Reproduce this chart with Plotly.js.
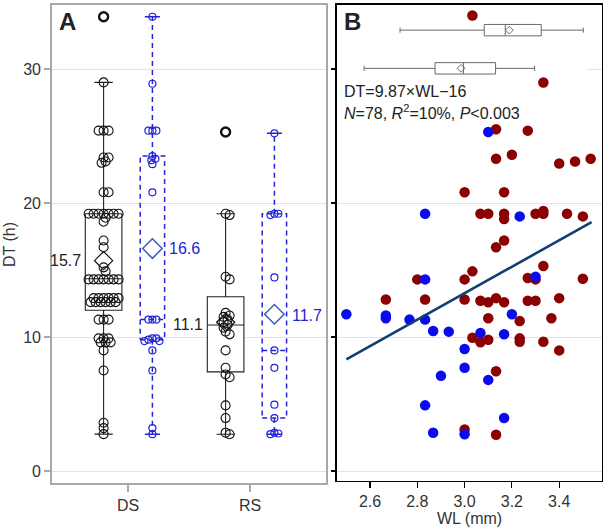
<!DOCTYPE html>
<html>
<head>
<meta charset="utf-8">
<script src="https://cdn.plot.ly/plotly-3.0.1.min.js"></script>
<style>html,body{margin:0;padding:0;background:#fff;}#chart{width:606px;height:529px;}</style>
</head>
<body>
<div id="chart"></div>
<script>
// ---------------- DATA ----------------
const groups = ['DS', 'RS'];
// Panel A: DT (h) values, black series
const dsBlack = [29.0, 25.4, 25.4, 25.4, 23.4, 23.4, 23.1, 23.0, 20.8, 20.8,
  19.2, 19.2, 19.2, 19.2, 19.2, 19.2, 19.2, 18.9, 18.6, 17.2, 16.7, 15.2, 14.9,
  14.3, 14.3, 14.3, 14.3, 14.3, 14.3, 14.3,
  12.9, 12.9, 12.9, 12.9, 12.9, 12.9, 12.6, 12.6, 12.6, 12.6, 12.6, 12.6,
  11.3, 11.3, 11.3, 9.9, 9.9, 9.9, 9.6, 9.6, 9.6, 9.0, 7.5, 3.6, 3.2, 2.75];
const dsBlackOut = [33.9];
const rsBlack = [19.2, 19.1, 14.5, 14.3, 11.8, 11.6, 11.5, 11.3, 11.1, 10.9, 10.7,
  10.4, 10.2, 9.0, 7.7, 7.2, 7.0, 4.9, 3.95, 2.86, 2.74];
const rsBlackOut = [25.3];
// Panel A: blue (dashed) series
const dsBlue = [33.9, 28.9, 25.4, 25.4, 25.4, 23.5, 23.3, 23.2, 22.9, 20.8,
  11.3, 11.3, 11.3, 9.9, 9.9, 9.8, 9.7, 9.7, 9.0, 7.5, 3.2, 2.75];
const rsBlue = [25.2, 19.2, 19.2, 19.1, 14.45, 9.0, 7.7, 4.95, 3.95, 2.85, 2.8, 2.75];
// Box statistics [DS, RS]
const blackQ1 = [12.0, 7.4], blackMed = [14.35, 10.9], blackQ3 = [19.2, 13.0];
const blackLo = [2.75, 2.74], blackHi = [29.0, 19.2], blackMean = [15.7, 11.1];
const blueQ1 = [9.8, 3.95], blueMed = [11.3, 9.0], blueQ3 = [23.5, 19.2];
const blueLo = [2.75, 2.75], blueHi = [33.9, 25.2], blueMean = [16.6, 11.7];
const blackMeanLabel = ['15.7', '11.1'];
const blueMeanLabel = ['16.6', '11.7'];

// Panel B: WL (mm) vs DT (h)
const redWL = [3.033, 3.333, 3.133, 3.267, 3.133, 3.2, 3.4, 3.467, 3.533, 3.0, 3.167,
  3.067, 3.1, 3.167, 3.167, 3.3, 3.333, 3.333, 3.433, 3.5, 3.167, 3.133, 3.333, 3.033,
  2.8, 3.0, 3.267, 3.3, 3.5, 2.667, 2.833, 3.0, 3.067, 3.1, 3.133, 3.167, 3.267, 3.3, 3.4,
  3.1, 3.233, 3.367, 3.033, 3.067, 3.1, 3.233, 3.233, 3.333, 3.4, 3.133, 3.0, 3.133];
const redDT = [34.0, 29.0, 25.5, 25.4, 23.3, 23.6, 22.95, 23.1, 23.3, 20.8, 20.8,
  19.2, 19.2, 19.2, 18.8, 19.2, 19.4, 19.2, 19.2, 19.0, 17.2, 16.7, 15.3, 14.9,
  14.3, 14.3, 14.4, 14.3, 14.35, 12.8, 12.8, 12.8, 12.7, 12.6, 12.9, 12.6, 12.7, 12.7, 12.9,
  11.4, 11.2, 11.4, 9.95, 9.6, 9.8, 9.9, 9.65, 9.65, 9.0, 7.45, 3.1, 2.7];
const blueWL = [3.1, 2.833, 3.233, 2.833, 3.3, 2.5, 2.667, 2.667, 2.767, 2.833, 3.2,
  2.867, 2.933, 3.067, 3.167, 3.0, 3.0, 2.9, 3.1, 2.833, 3.167, 2.867, 3.0];
const blueDT = [25.3, 19.2, 19.0, 14.3, 14.5, 11.7, 11.6, 11.4, 11.3, 11.3, 11.7,
  10.45, 10.4, 10.3, 10.2, 9.1, 7.7, 7.1, 6.8, 4.9, 3.95, 2.86, 2.74];
// WL box statistics [red group, blue group]
const wlQ1 = [3.083, 2.875], wlMed = [3.172, 2.995], wlQ3 = [3.324, 3.131];
const wlLo = [2.727, 2.575], wlHi = [3.502, 3.296], wlMean = [3.189, 2.985];
// Regression
const fitSlope = 9.87, fitIntercept = -16.34, fitXRange = [2.5, 3.537];

// ---------------- LAYOUT HELPERS ----------------
const W = 606, H = 529;
const px = v => v / W, py = v => 1 - v / H;
const FONT = 'Liberation Sans, Arial, sans-serif';
const BLUE = '#2323d8';
const pxPerY = 13.4, pxPerX = 122;

function swarm(vals, d) {
  const order = vals.map((v, i) => i).sort((a, b) => vals[b] - vals[a]);
  const placed = [], off = new Array(vals.length);
  order.forEach(i => {
    const y = vals[i] * pxPerY;
    let c = 0;
    for (let k = 0; k < 200; k++) {
      const cand = (k % 2 === 1 ? 1 : -1) * Math.ceil(k / 2);
      const ok = placed.every(p => (p.x - cand) ** 2 + (p.y - y) ** 2 >= d * d);
      if (ok) { c = cand; break; }
    }
    placed.push({x: c, y: y});
    off[i] = c / pxPerX;
  });
  return off;
}

const pos = {black: [-0.2, 0.8], blue: [0.2, 1.2]};
const traces = [];
const none = {hoverinfo: 'skip', showlegend: false};

// Black boxes
for (let g = 0; g < 2; g++) {
  traces.push(Object.assign({
    type: 'box', x: [pos.black[g]], q1: [blackQ1[g]], median: [blackMed[g]], q3: [blackQ3[g]],
    lowerfence: [blackLo[g]], upperfence: [blackHi[g]], width: 0.3, whiskerwidth: 0.5,
    fillcolor: '#ffffff', line: {color: '#222', width: 1.1}, boxpoints: false,
    xaxis: 'x', yaxis: 'y'
  }, none));
}
// Blue dashed boxes
for (let g = 0; g < 2; g++) {
  const x = pos.blue[g], w = 0.1, c = 0.062;
  traces.push(Object.assign({
    type: 'scatter', mode: 'lines',
    x: [x - w, x + w, x + w, x - w, x - w, null, x - w, x + w, null, x, x, null, x, x],
    y: [blueQ1[g], blueQ1[g], blueQ3[g], blueQ3[g], blueQ1[g], null, blueMed[g], blueMed[g], null,
        blueQ3[g], blueHi[g], null, blueQ1[g], blueLo[g]],
    line: {color: BLUE, width: 1.5, dash: '5px,4px'}, xaxis: 'x', yaxis: 'y'
  }, none));
  traces.push(Object.assign({
    type: 'scatter', mode: 'lines',
    x: [x - c, x + c, null, x - c, x + c],
    y: [blueHi[g], blueHi[g], null, blueLo[g], blueLo[g]],
    line: {color: BLUE, width: 1.5}, xaxis: 'x', yaxis: 'y'
  }, none));
}
// Points
function addPoints(vals, center, d, color, size, lw) {
  const off = swarm(vals, d);
  traces.push(Object.assign({
    type: 'scatter', mode: 'markers', x: vals.map((v, i) => center + off[i]), y: vals,
    marker: {symbol: 'circle-open', size: size, color: color, line: {width: lw, color: color}},
    xaxis: 'x', yaxis: 'y'
  }, none));
}
addPoints(dsBlack, pos.black[0], 4.2, '#111', 9, 1.1);
addPoints(rsBlack, pos.black[1], 4.2, '#111', 9, 1.1);
addPoints(dsBlue, pos.blue[0], 3.4, BLUE, 7, 1.2);
addPoints(rsBlue, pos.blue[1], 3.4, BLUE, 7, 1.2);
traces.push(Object.assign({
  type: 'scatter', mode: 'markers', x: [pos.black[0], pos.black[1]], y: [dsBlackOut[0], rsBlackOut[0]],
  marker: {symbol: 'circle-open', size: 9, color: '#111', line: {width: 2.4, color: '#111'}},
  xaxis: 'x', yaxis: 'y'
}, none));
// Means
traces.push(Object.assign({
  type: 'scatter', mode: 'markers', x: pos.black, y: blackMean,
  marker: {symbol: 'diamond-open', size: 14, color: '#111', line: {width: 1.2, color: '#111'}},
  xaxis: 'x', yaxis: 'y'
}, none));
traces.push(Object.assign({
  type: 'scatter', mode: 'markers', x: pos.blue, y: blueMean,
  marker: {symbol: 'diamond-open', size: 15, color: '#3a5cc0', line: {width: 1.5, color: '#3a5cc0'}},
  xaxis: 'x', yaxis: 'y'
}, none));

// Panel B: WL boxes
const wlPos = [32.9, 30.05];
for (let g = 0; g < 2; g++) {
  traces.push(Object.assign({
    type: 'box', orientation: 'h', y: [wlPos[g]], q1: [wlQ1[g]], median: [wlMed[g]], q3: [wlQ3[g]],
    lowerfence: [wlLo[g]], upperfence: [wlHi[g]], width: 0.85, whiskerwidth: 0.45,
    fillcolor: '#ffffff', line: {color: '#6a6a6a', width: 1}, boxpoints: false,
    xaxis: 'x2', yaxis: 'y2'
  }, none));
}
traces.push(Object.assign({
  type: 'scatter', mode: 'markers', x: wlMean, y: wlPos,
  marker: {symbol: 'diamond-open', size: 6, color: '#6a6a6a', line: {width: 1, color: '#6a6a6a'}},
  xaxis: 'x2', yaxis: 'y2'
}, none));
traces.push(Object.assign({
  type: 'scatter', mode: 'markers', x: redWL, y: redDT,
  marker: {size: 10.5, color: '#8b0000'}, xaxis: 'x2', yaxis: 'y2'
}, none));
traces.push(Object.assign({
  type: 'scatter', mode: 'markers', x: blueWL, y: blueDT,
  marker: {size: 10.5, color: '#0a0af0'}, xaxis: 'x2', yaxis: 'y2'
}, none));
traces.push(Object.assign({
  type: 'scatter', mode: 'lines', x: fitXRange, y: fitXRange.map(x => fitSlope * x + fitIntercept),
  line: {color: '#123f73', width: 2.6}, xaxis: 'x2', yaxis: 'y2'
}, none));

const gridC = '#e3e3e3';
const layout = {
  width: W, height: H, margin: {l: 0, r: 0, t: 0, b: 0},
  paper_bgcolor: '#fff', plot_bgcolor: 'rgba(0,0,0,0)',
  font: {family: FONT, size: 16, color: '#333'},
  showlegend: false,
  xaxis: {
    domain: [px(51.7), px(326)], range: [-0.6254, 1.623], anchor: 'y',
    tickvals: [0, 1], ticktext: groups, showgrid: false, zeroline: false,
    ticks: 'outside', ticklen: 7, tickwidth: 1.5, tickcolor: '#a8a8a8',
    showline: true, linecolor: '#a8a8a8', linewidth: 1.5, mirror: true,
    tickfont: {family: FONT, size: 16, color: '#333'}
  },
  yaxis: {
    domain: [py(483.3), py(4.7)], range: [-0.918, 34.8], anchor: 'x',
    tickvals: [0, 10, 20, 30], showgrid: true, gridcolor: gridC, gridwidth: 1, zeroline: false,
    ticks: 'outside', ticklen: 6, tickwidth: 1.5, tickcolor: '#a8a8a8',
    showline: true, linecolor: '#a8a8a8', linewidth: 1.5, mirror: true,
    tickfont: {family: FONT, size: 16, color: '#333'}
  },
  xaxis2: {
    domain: [px(336.7), px(601.7)], range: [2.4592, 3.5797], anchor: 'y2',
    tickvals: [2.6, 2.8, 3.0, 3.2, 3.4], ticktext: ['2.6', '2.8', '3.0', '3.2', '3.4'],
    showgrid: false, zeroline: false,
    ticks: 'outside', ticklen: 6, tickwidth: 1.2, tickcolor: '#000',
    showline: true, linecolor: '#000', linewidth: 1.5, mirror: true,
    tickfont: {family: FONT, size: 16, color: '#333'}
  },
  yaxis2: {
    domain: [py(480.7), py(4.7)], range: [-0.724, 34.8], anchor: 'x2',
    tickvals: [0, 10, 20, 30], showticklabels: false, showgrid: true, gridcolor: gridC, zeroline: false,
    ticks: 'outside', ticklen: 4, tickwidth: 1.2, tickcolor: '#000',
    showline: true, linecolor: '#000', linewidth: 1.5, mirror: true
  },
  shapes: [{
    type: 'rect', xref: 'x2', yref: 'y2', x0: 2.4592, x1: 3.516, y0: 29.4, y1: 34.8,
    fillcolor: '#ffffff', line: {width: 0}, layer: 'between'
  }],
  annotations: [
    {text: '<b>A</b>', xref: 'paper', yref: 'paper', x: px(57), y: py(21.5), xanchor: 'left', yanchor: 'middle',
     showarrow: false, font: {family: FONT, size: 24, color: '#222'}},
    {text: '<b>B</b>', xref: 'paper', yref: 'paper', x: px(342), y: py(21.5), xanchor: 'left', yanchor: 'middle',
     showarrow: false, font: {family: FONT, size: 24, color: '#222'}},
    {text: 'DT (h)', xref: 'paper', yref: 'paper', x: px(10), y: py(244), textangle: -90,
     xanchor: 'center', yanchor: 'middle', showarrow: false, font: {family: FONT, size: 16, color: '#333'}},
    {text: 'WL (mm)', xref: 'paper', yref: 'paper', x: px(469.5), y: py(518.5),
     xanchor: 'center', yanchor: 'middle', showarrow: false, font: {family: FONT, size: 16, color: '#333'}},
    {text: 'DT=9.87\u00d7WL\u221216', xref: 'paper', yref: 'paper', x: px(342), y: py(91.5),
     xanchor: 'left', yanchor: 'middle', showarrow: false, font: {family: FONT, size: 16, color: '#222'}},
    {text: '<i>N</i>=78, <i>R</i><sup>2</sup>=10%, <i>P</i>&lt;0.003', xref: 'paper', yref: 'paper',
     x: px(342), y: py(111.5), xanchor: 'left', yanchor: 'middle', showarrow: false,
     font: {family: FONT, size: 16, color: '#222'}},
    {text: blackMeanLabel[0], xref: 'x', yref: 'y', x: -0.365, y: blackMean[0], xanchor: 'right', yanchor: 'middle',
     showarrow: false, font: {family: FONT, size: 16, color: '#222'}},
    {text: blackMeanLabel[1], xref: 'x', yref: 'y', x: 0.633, y: 10.9, xanchor: 'right', yanchor: 'middle',
     showarrow: false, font: {family: FONT, size: 16, color: '#222'}},
    {text: blueMeanLabel[0], xref: 'x', yref: 'y', x: 0.318, y: blueMean[0], xanchor: 'left', yanchor: 'middle',
     showarrow: false, font: {family: FONT, size: 16, color: BLUE}},
    {text: blueMeanLabel[1], xref: 'x', yref: 'y', x: 1.33, y: 11.64, xanchor: 'left', yanchor: 'middle',
     showarrow: false, font: {family: FONT, size: 16, color: BLUE}}
  ]
};

Plotly.newPlot('chart', traces, layout, {staticPlot: true, displayModeBar: false});
</script>
</body>
</html>
